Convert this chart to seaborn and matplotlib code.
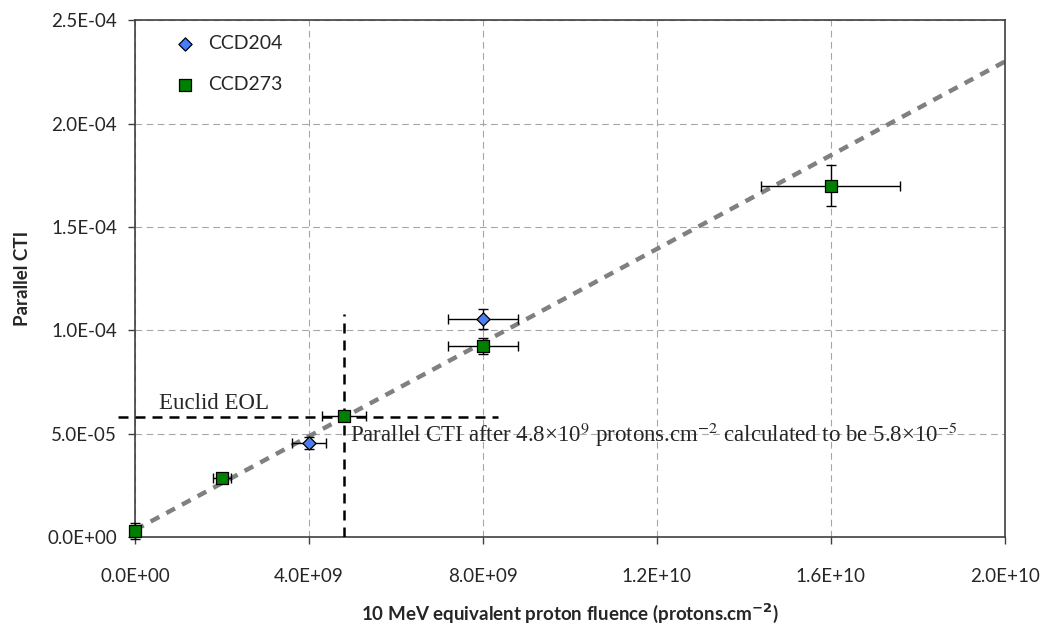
import numpy as np
import matplotlib
matplotlib.use("Agg")
import matplotlib.pyplot as plt
import seaborn as sns
import pandas as pd
from matplotlib.ticker import FuncFormatter

# CCD204 measurements
ccd204_fluence = [4.0e9, 8.0e9]
ccd204_cti = [4.55e-5, 1.055e-4]
ccd204_xerr = [4.0e8, 8.0e8]
ccd204_yerr = [3.0e-6, 5.0e-6]

# CCD273 measurements
ccd273_fluence = [0.0, 2.0e9, 4.8e9, 8.0e9, 1.6e10]
ccd273_cti = [3.0e-6, 2.85e-5, 5.85e-5, 9.25e-5, 1.7e-4]
ccd273_xerr = [0.0, 2.0e8, 5.0e8, 8.0e8, 1.6e9]
ccd273_yerr = [4.0e-6, 1.5e-6, 2.0e-6, 4.0e-6, 1.0e-5]

# linear trend end points
trend_x = [0.0, 2.0e10]
trend_y = [3.4e-6, 2.3e-4]

# Euclid end-of-life marker
eol_fluence = 4.8e9
eol_cti = 5.8e-5

sns.set_style("white")
plt.rcParams['font.family'] = ['Lato', 'DejaVu Sans']

fig, ax = plt.subplots(figsize=(10.5, 6.33), dpi=100)
fig.subplots_adjust(left=0.1286, right=0.957, top=0.968, bottom=0.1517)

# grid
ax.set_axisbelow(True)
ax.grid(True, color='#a6a6a6', linestyle=(0, (6, 4)), linewidth=0.8)

# trendline
sns.lineplot(x=trend_x, y=trend_y, ax=ax, color='#808080', linewidth=3.2,
             linestyle=(0, (2.2, 1.8)), zorder=2)

# EOL lines
ax.plot([-4.0e8, 8.35e9], [eol_cti, eol_cti], color='black', linewidth=1.8,
        linestyle=(0, (4, 2.8)), clip_on=False, zorder=3)
ax.plot([eol_fluence, eol_fluence], [0, 1.08e-4], color='black', linewidth=1.8,
        linestyle=(0, (4, 2.8)), zorder=3)

# error bars
ax.errorbar(ccd204_fluence, ccd204_cti, xerr=ccd204_xerr, yerr=ccd204_yerr,
            fmt='none', ecolor='black', elinewidth=1.0, capsize=3.5, capthick=1.0, zorder=4)
ax.errorbar(ccd273_fluence, ccd273_cti, xerr=ccd273_xerr, yerr=ccd273_yerr,
            fmt='none', ecolor='black', elinewidth=1.0, capsize=3.5, capthick=1.0,
            zorder=4, clip_on=False)

df204 = pd.DataFrame({'x': ccd204_fluence, 'y': ccd204_cti})
df273 = pd.DataFrame({'x': ccd273_fluence, 'y': ccd273_cti})
sns.scatterplot(data=df204, x='x', y='y', ax=ax, marker='D', s=45, color='#4a7cf5',
                edgecolor='black', linewidth=0.9, label='CCD204', zorder=5)
sns.scatterplot(data=df273, x='x', y='y', ax=ax, marker='s', s=65, color='#008000',
                edgecolor='black', linewidth=0.9, label='CCD273', zorder=5, clip_on=False)

ax.set_xlim(0, 2.0e10)
ax.set_ylim(0, 2.5e-4)
ax.set_xticks(np.arange(0, 2.01e10, 4.0e9))
ax.set_yticks(np.arange(0, 2.51e-4, 5.0e-5))

def sci(v, pos):
    return "%.1E" % v
ax.xaxis.set_major_formatter(FuncFormatter(sci))
ax.yaxis.set_major_formatter(FuncFormatter(sci))

for sp in ax.spines.values():
    sp.set_color('#404040')
    sp.set_linewidth(1.2)
ax.tick_params(axis='both', direction='out', length=5, width=1, color='#404040',
               labelsize=13.5, bottom=True, left=True)
ax.tick_params(axis='x', pad=17)
ax.tick_params(axis='y', pad=8)

ax.set_xlabel('10 MeV equivalent proton fluence (protons.cm$^{\\mathbf{-2}}$)',
              fontsize=13.5, fontweight='bold', labelpad=12)
ax.set_ylabel('Parallel CTI', fontsize=13.5, fontweight='bold', labelpad=12)

ax.text(0.55e9, 6.2e-5, 'Euclid EOL', family='Liberation Serif', fontsize=16.5)
ax.text(4.95e9, 4.6e-5,
        'Parallel CTI after 4.8\u00d710$^{9}$ protons.cm$^{-2}$ calculated to be 5.8\u00d710$^{-5}$',
        family='Liberation Serif', fontsize=16.5, math_fontfamily='stix')

leg = ax.legend(loc='upper left', bbox_to_anchor=(0.015, 1.005), frameon=False,
                fontsize=14, labelspacing=1.25, handletextpad=0.2, borderaxespad=0.5)

plt.savefig('out.png', dpi=100)
